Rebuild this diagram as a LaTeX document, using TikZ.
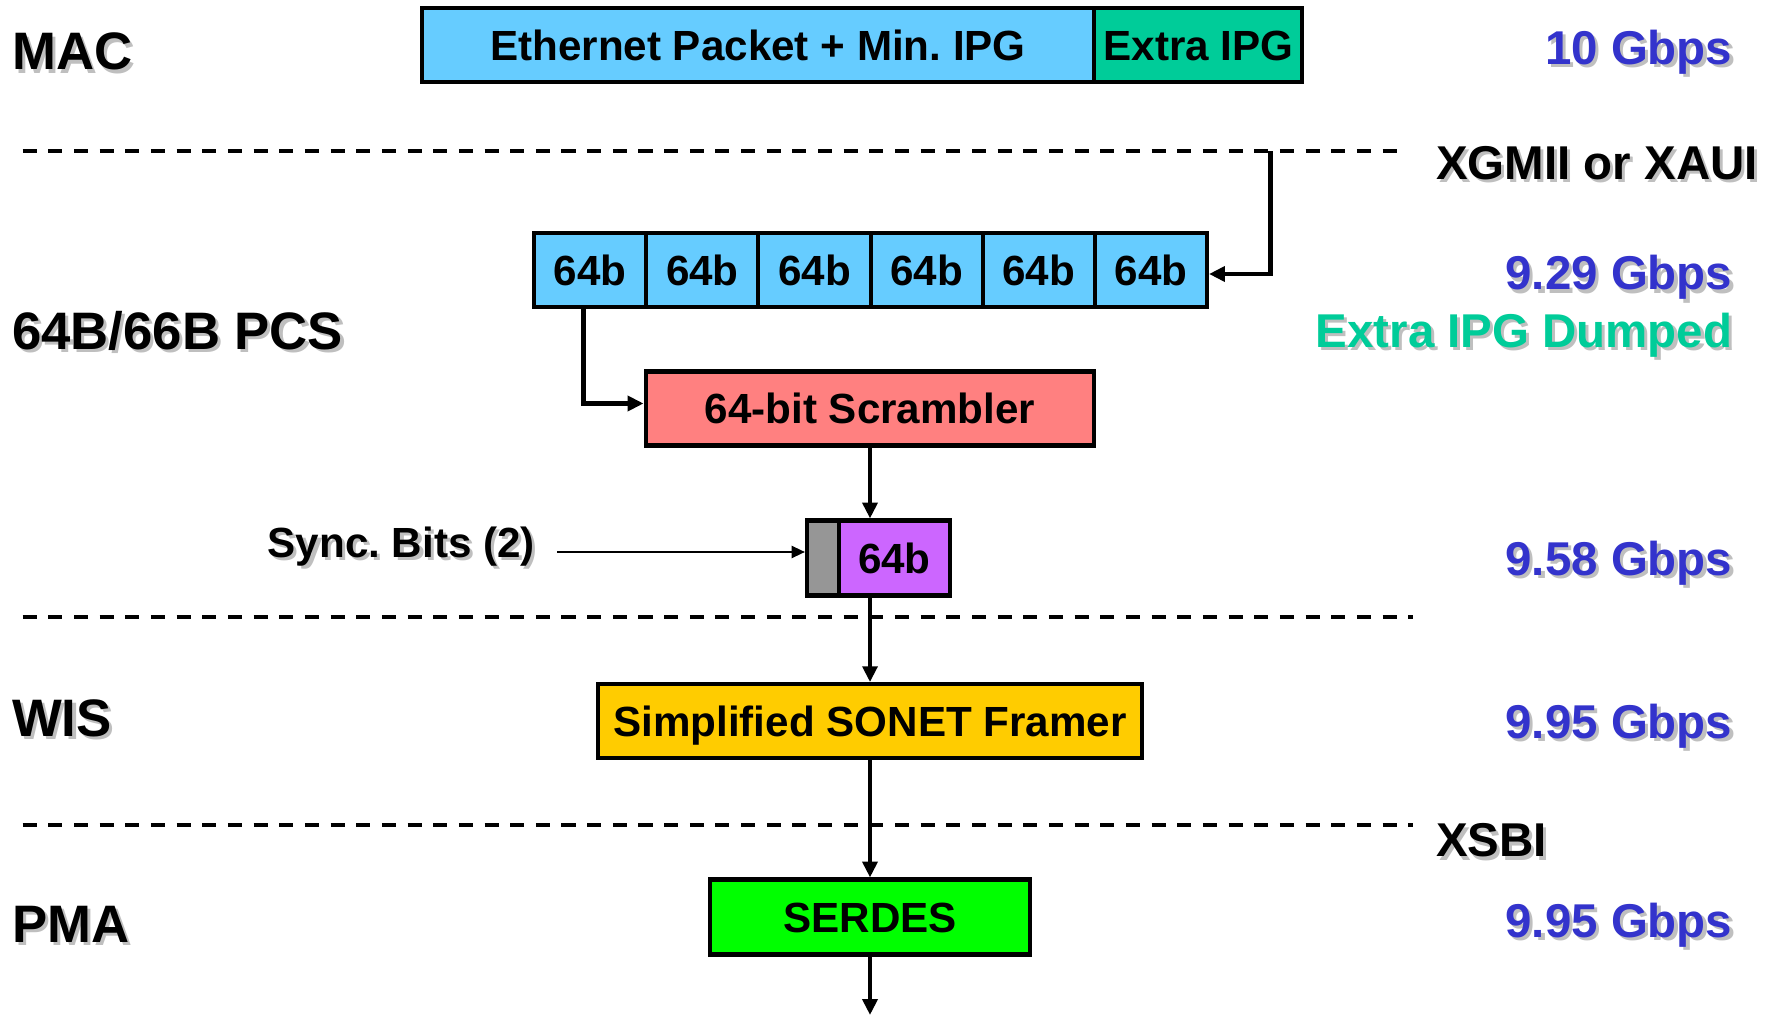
\documentclass[tikz,border=0pt]{standalone}
\usepackage{fontspec}
\setmainfont{Liberation Sans}
\usepackage{xcolor}
\usetikzlibrary{arrows.meta}
\definecolor{pktblue}{HTML}{66CCFF}
\definecolor{ipggreen}{HTML}{00CC99}
\definecolor{scrred}{HTML}{FF8080}
\definecolor{syncgray}{HTML}{969696}
\definecolor{blkpurple}{HTML}{CC66FF}
\definecolor{sonetyellow}{HTML}{FFCC00}
\definecolor{serdesgreen}{HTML}{00FF00}
\definecolor{rateblue}{HTML}{3333CC}
\newcommand{\shd}[1]{\makebox[0pt][l]{\hspace{0.9pt}\raisebox{-0.9pt}{\color{black!25}#1}}#1}

\begin{document}
\begin{tikzpicture}[
    box/.style={draw, line width=1.15pt, minimum height=0.74cm, inner sep=0pt,
      font=\fontsize{12}{14}\selectfont\bfseries, text height=8.6pt, text depth=0pt},
    layer/.style={anchor=west, inner sep=0pt,
      font=\fontsize{15}{18}\selectfont\bfseries, text height=10.7pt, text depth=0pt},
    iface/.style={anchor=west, inner sep=0pt,
      font=\fontsize{13.5}{16}\selectfont\bfseries, text height=9.7pt, text depth=0pt},
    rate/.style={anchor=east, inner sep=0pt, text=rateblue,
      font=\fontsize{13.5}{16}\selectfont\bfseries, text height=9.7pt, text depth=0pt},
    arr/.style={line width=1.4pt, -{Triangle[length=4.5pt,width=4.2pt]}},
    sep/.style={line width=1pt, dash pattern=on 4pt off 3.3pt}]
  \useasboundingbox (0,0) rectangle (17.82,-10.17);

  % layer names
  \node[layer] (mac) at (0.114,-0.511) {\shd{MAC}};
  \node[layer] (pcs) at (0.114,-3.307) {\shd{64B/66B PCS}};
  \node[layer] (wis) at (0.114,-7.18) {\shd{WIS}};
  \node[layer] (pma) at (0.114,-9.24) {\shd{PMA}};

  % MAC
  \node[box, fill=pktblue, minimum width=6.728cm] (eth) at (7.58,-0.449) {Ethernet Packet + Min.\ IPG};
  \node[box, fill=ipggreen, minimum width=2.08cm] (xipg) at (11.984,-0.449) {Extra IPG};

  % layer boundaries
  \draw[sep] (0.227,-1.512) -- (13.98,-1.512);
  \draw[sep] (0.227,-6.171) -- (14.126,-6.171);
  \draw[sep] (0.227,-8.251) -- (14.126,-8.251);
  \node[iface] (xgmii) at (14.354,-1.625) {\shd{XGMII or XAUI}};
  \node[iface] (xsbi) at (14.354,-8.399) {\shd{XSBI}};

  % PCS
  \foreach \i in {1,...,6}
    \node[box, fill=pktblue, minimum width=1.1213cm] (c\i) at ({5.342+(\i-0.5)*1.1213},-2.70) {64b};
  \node[box, fill=scrred, minimum width=4.489cm] (scr) at (8.70,-4.085) {64-bit Scrambler};
  \node[box, fill=syncgray, minimum width=0.318cm, minimum height=0.75cm] (sb) at (8.228,-5.58) {};
  \node[box, fill=blkpurple, minimum width=1.114cm, minimum height=0.75cm] (pb) at (8.944,-5.58) {64b};
  \node[iface, font=\fontsize{12}{14}\selectfont\bfseries, text height=8.6pt] (sync) at (2.67,-5.42) {\shd{Sync.\ Bits (2)}};

  % WIS and PMA
  \node[box, fill=sonetyellow, minimum width=5.444cm] (sonet) at (8.70,-7.211) {Simplified SONET Framer};
  \node[box, fill=serdesgreen, minimum width=3.205cm, minimum height=0.75cm] (serdes) at (8.70,-9.17) {SERDES};

  % rates
  \node[rate] (r1) at (17.33,-0.477) {\shd{10 Gbps}};
  \node[rate] (r2) at (17.33,-2.728) {\shd{9.29 Gbps}};
  \node[rate, text=ipggreen] (dump) at (17.33,-3.307) {\shd{Extra IPG Dumped}};
  \node[rate] (r3) at (17.33,-5.58) {\shd{9.58 Gbps}};
  \node[rate] (r4) at (17.33,-7.217) {\shd{9.95 Gbps}};
  \node[rate] (r5) at (17.33,-9.206) {\shd{9.95 Gbps}};

  % data path
  \coordinate (tap) at (12.706,-1.512);
  \coordinate (syncin) at (5.57,-5.52);
  \coordinate (out) at (8.70,-10.15);
  \draw[arr] (tap) |- ([yshift=-0.04cm]c6.east);
  \draw[arr] ([xshift=-0.07cm]c1.south) |- ([yshift=0.05cm]scr.west);
  \draw[arr] (scr.south) -- (scr.south |- pb.north);
  \draw[line width=0.45pt, -{Triangle[length=3.8pt,width=3.5pt]}] (syncin) -- (syncin -| sb.west);
  \draw[arr] (scr.south |- pb.south) -- (sonet.north);
  \draw[arr] (sonet.south) -- (serdes.north);
  \draw[arr] (serdes.south) -- (out);
\end{tikzpicture}
\end{document}
